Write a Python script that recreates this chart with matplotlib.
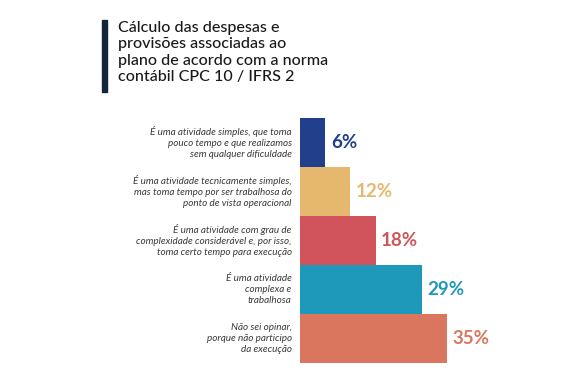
import matplotlib.pyplot as plt
from matplotlib.patches import Rectangle

plt.rcParams['font.family'] = ['Lato', 'DejaVu Sans']

labels = [
    "É uma atividade simples, que toma\npouco tempo e que realizamos\nsem qualquer dificuldade",
    "É uma atividade tecnicamente simples,\nmas toma tempo por ser trabalhosa do\nponto de vista operacional",
    "É uma atividade com grau de\ncomplexidade considerável e, por isso,\ntoma certo tempo para execução",
    "É uma atividade\ncomplexa e\ntrabalhosa",
    "Não sei opinar,\nporque não participo\nda execução",
]
values = [6, 12, 18, 29, 35]
colors = ['#213f8b', '#e6b86e', '#d1535b', '#1f99b9', '#da765d']
title = "Cálculo das despesas e\nprovisões associadas ao\nplano de acordo com a norma\ncontábil CPC 10 / IFRS 2"

W, H = 588, 382
fig = plt.figure(figsize=(W / 100, H / 100), dpi=100)
fig.patch.set_facecolor('white')

# axes: bars start at x=300px, ~4.2px per percent; bars span y 118..363px
ax = fig.add_axes([300 / W, 19 / H, 252 / W, 245 / H])
ax.barh(range(len(values)), values, height=1.0, color=colors, align='center')
ax.set_xlim(0, 60)
ax.set_ylim(len(values) - 0.5, -0.5)
ax.axis('off')

for i, (v, c, lab) in enumerate(zip(values, colors, labels)):
    ax.annotate(f"{v}%", (v, i), xytext=(4, 0), textcoords='offset points',
                ha='left', va='center', fontsize=13.5, fontweight='bold', color=c)
    ax.annotate(lab, (0, i), xytext=(-6, 0), textcoords='offset points',
                ha='right', va='center', fontsize=7.1, style='italic',
                color='#3a3a3a', linespacing=1.3)

# title with dark vertical bar
fig.patches.append(Rectangle((102 / W, 1 - 92 / H), 5 / W, 72 / H,
                             transform=fig.transFigure, color='#14263a'))
fig.text(118 / W, 1 - 21 / H, title, ha='left', va='top', fontsize=11.6,
         fontweight='medium', color='#1a1a1a', linespacing=1.22)

fig.savefig('out.png', dpi=100)
